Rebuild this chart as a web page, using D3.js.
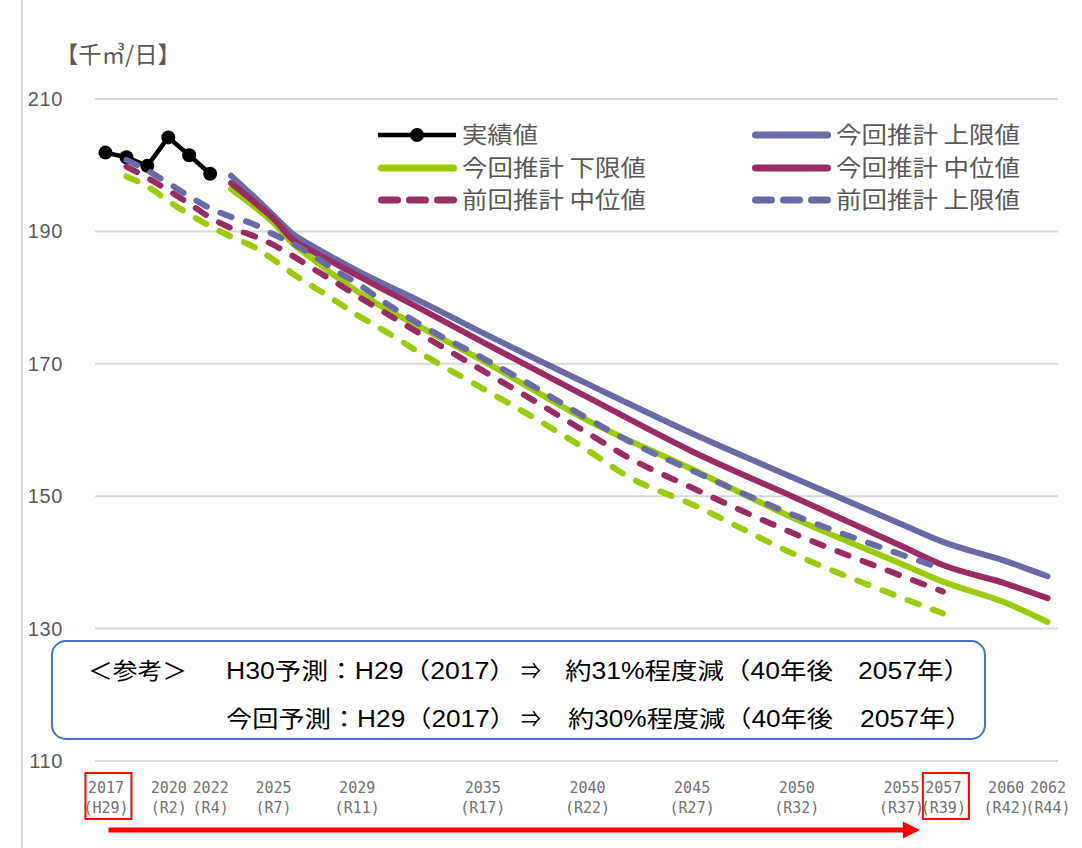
<!DOCTYPE html>
<html>
<head>
<meta charset="utf-8">
<script src="https://cdn.jsdelivr.net/npm/d3@7"></script>
<style>
  html, body { margin: 0; padding: 0; background: #fff; }
  svg { display: block; }
</style>
</head>
<body>
<svg id="chart" width="1082" height="848"></svg>
<script>
// 実績値
const actualYears = [2017, 2018, 2019, 2020, 2021, 2022];
const actualValues = [201.9, 201.2, 199.9, 204.2, 201.5, 198.7];

// 今回推計 (2023〜2062)
const currentYears = [2023, 2024, 2025, 2026, 2027, 2028, 2029, 2030, 2032, 2035, 2040, 2045, 2050, 2055, 2057, 2060, 2062];
const currentUpper = [198.4, 195.5, 192.5, 189.5, 187.6, 185.8, 184.1, 182.5, 179.5, 174.7, 167.0, 159.5, 152.6, 145.8, 143.1, 140.2, 137.9];
const currentMid   = [197.3, 194.7, 192.0, 188.6, 186.8, 185.1, 183.4, 181.7, 178.4, 173.3, 165.0, 156.8, 149.7, 142.5, 139.6, 136.8, 134.6];
const currentLower = [196.4, 194.0, 191.4, 188.0, 185.6, 183.2, 181.0, 179.0, 175.6, 170.5, 161.5, 154.1, 146.5, 139.8, 137.1, 133.9, 131.0];

// 前回推計 (2018〜2057)
const previousYears = [2018, 2019, 2020, 2021, 2022, 2023, 2024, 2025, 2026, 2027, 2028, 2029, 2030, 2032, 2035, 2037, 2040, 2042, 2045, 2050, 2055, 2057];
const previousUpper = [200.8, 199.2, 197.3, 195.3, 193.5, 192.2, 191.2, 189.6, 188.1, 186.2, 184.1, 182.2, 180.0, 176.0, 170.9, 167.4, 161.8, 158.3, 153.9, 147.0, 141.2, 139.0];
const previousMid   = [199.8, 198.1, 196.2, 194.2, 192.1, 190.5, 189.4, 188.0, 186.2, 184.2, 182.3, 180.3, 178.4, 174.6, 169.0, 165.3, 159.6, 155.8, 151.3, 144.2, 138.0, 135.6];
const previousLower = [198.3, 196.8, 194.6, 192.6, 190.8, 189.2, 187.8, 185.8, 183.5, 181.5, 179.5, 177.4, 175.6, 171.7, 166.3, 162.7, 157.0, 152.9, 148.8, 141.1, 134.7, 132.3];

// 軸ラベル
const yTicks = [110, 130, 150, 170, 190, 210];
const xTickYears = [2017, 2020, 2022, 2025, 2029, 2035, 2040, 2045, 2050, 2055, 2057, 2060, 2062];
const xTickEras = ["(H29)", "(R2)", "(R4)", "(R7)", "(R11)", "(R17)", "(R22)", "(R27)", "(R32)", "(R37)", "(R39)", "(R42)", "(R44)"];
const highlightYears = [2017, 2057];
const unitLabel = "【千㎥/日】";

const noteLines = [
  ["＜参考＞", "H30予測：H29（2017）", "⇒", "約31%程度減（40年後", "2057年）"],
  ["", "今回予測：H29（2017）", "⇒", "約30%程度減（40年後", "2057年）"]
];

const COLORS = {
  actual: "#000000",
  upper: "#6a6aa6",
  mid: "#992c63",
  lower: "#9acb04"
};

const svg = d3.select("#chart");
const W = 1082, H = 848;

const x = d3.scaleLinear().domain([2016.5, 2062.5]).range([95, 1058]);
const y = d3.scaleLinear().domain([110, 210]).range([761, 99]);

// 枠線（左）
svg.append("line")
  .attr("x1", 22).attr("x2", 22).attr("y1", 0).attr("y2", H)
  .attr("stroke", "#d9d9d9").attr("stroke-width", 2);

// 単位
svg.append("text")
  .attr("x", 55).attr("y", 63)
  .attr("font-family", "'Noto Sans CJK JP', sans-serif")
  .attr("font-size", 23)
  .attr("fill", "#595959")
  .attr("textLength", 126)
  .attr("lengthAdjust", "spacingAndGlyphs")
  .text(unitLabel);

// 目盛線
svg.append("g")
  .selectAll("line")
  .data(yTicks)
  .join("line")
  .attr("x1", 95).attr("x2", 1058)
  .attr("y1", d => y(d)).attr("y2", d => y(d))
  .attr("stroke", "#d9d9d9").attr("stroke-width", 2);

// 縦軸
const yAxis = svg.append("g")
  .attr("transform", "translate(95,0)")
  .call(d3.axisLeft(y).tickValues(yTicks).tickSize(0).tickPadding(32).tickFormat(d3.format("d")));
yAxis.select(".domain").remove();
yAxis.selectAll("text")
  .attr("font-family", "'Liberation Sans', Arial, sans-serif")
  .attr("font-size", 20)
  .attr("fill", "#595959")
  .attr("letter-spacing", 0.6);

// 横軸（年・元号の2段）
const xAxis = svg.append("g")
  .attr("transform", "translate(0,761)")
  .call(d3.axisBottom(x).tickValues(xTickYears).tickSize(0).tickPadding(0).tickFormat(d => String(d)));
xAxis.select(".domain").remove();
xAxis.selectAll("text")
  .attr("font-family", "'DejaVu Sans Mono', monospace")
  .attr("font-size", 15)
  .attr("fill", "#707070")
  .attr("y", 32)
  .attr("dy", null)
  .each(function(d, i) {
    const t = d3.select(this);
    t.text(null);
    t.append("tspan").attr("x", 0).attr("y", 32).text(String(d));
    t.append("tspan").attr("x", 0).attr("y", 52).text(xTickEras[i]);
  });

// 強調枠（基準年・40年後）
svg.append("g")
  .selectAll("rect")
  .data(highlightYears)
  .join("rect")
  .attr("x", d => x(d) - 20)
  .attr("y", 773)
  .attr("width", 46)
  .attr("height", 46)
  .attr("fill", "none")
  .attr("stroke", "#ff0000")
  .attr("stroke-width", 2);

// 期間を示す矢印
const arrowY = 830;
const arrowStart = x(2017) + 3;
const arrowTip = x(2057) - 23;
svg.append("line")
  .attr("x1", arrowStart).attr("x2", arrowTip - 16)
  .attr("y1", arrowY).attr("y2", arrowY)
  .attr("stroke", "#ff0000").attr("stroke-width", 5);
svg.append("path")
  .attr("d", `M${arrowTip - 17},${arrowY - 8.5} L${arrowTip},${arrowY} L${arrowTip - 17},${arrowY + 8.5} Z`)
  .attr("fill", "#ff0000");

// 系列の描画（系列順に重ねる：実績 → 今回推計 → 前回推計）
const line = d3.line().x(d => x(d[0])).y(d => y(d[1])).curve(d3.curveMonotoneX);
const zip = (ys, vs) => ys.map((yr, i) => [yr, vs[i]]);

const plot = svg.append("g");

const actualData = zip(actualYears, actualValues);
plot.append("path")
  .datum(actualData)
  .attr("d", d3.line().x(d => x(d[0])).y(d => y(d[1])))
  .attr("fill", "none")
  .attr("stroke", COLORS.actual)
  .attr("stroke-width", 4.5)
  .attr("stroke-linejoin", "round");
plot.selectAll("circle.actual")
  .data(actualData)
  .join("circle")
  .attr("class", "actual")
  .attr("cx", d => x(d[0]))
  .attr("cy", d => y(d[1]))
  .attr("r", 7)
  .attr("fill", COLORS.actual);

const series = [
  { years: currentYears, values: currentUpper, color: COLORS.upper, dashed: false },
  { years: currentYears, values: currentLower, color: COLORS.lower, dashed: false },
  { years: currentYears, values: currentMid, color: COLORS.mid, dashed: false },
  { years: previousYears, values: previousMid, color: COLORS.mid, dashed: true },
  { years: previousYears, values: previousUpper, color: COLORS.upper, dashed: true },
  { years: previousYears, values: previousLower, color: COLORS.lower, dashed: true }
];

series.forEach(s => {
  plot.append("path")
    .datum(zip(s.years, s.values))
    .attr("d", line)
    .attr("fill", "none")
    .attr("stroke", s.color)
    .attr("stroke-width", 6)
    .attr("stroke-linecap", "round")
    .attr("stroke-linejoin", "round")
    .attr("stroke-dasharray", s.dashed ? "12,15" : null);
});

// 凡例
const legendItems = [
  { label: "実績値", color: COLORS.actual, type: "marker", col: 0, row: 0, w: 76 },
  { label: "今回推計 下限値", color: COLORS.lower, type: "solid", col: 0, row: 1, w: 184 },
  { label: "前回推計 中位値", color: COLORS.mid, type: "dashed", col: 0, row: 2, w: 184 },
  { label: "今回推計 上限値", color: COLORS.upper, type: "solid", col: 1, row: 0, w: 184 },
  { label: "今回推計 中位値", color: COLORS.mid, type: "solid", col: 1, row: 1, w: 184 },
  { label: "前回推計 上限値", color: COLORS.upper, type: "dashed", col: 1, row: 2, w: 184 }
];
const legendColX = [378, 752];
const legendRowY = [135, 168, 200];
const legend = svg.append("g");
legendItems.forEach(it => {
  const x0 = legendColX[it.col];
  const yy = legendRowY[it.row];
  const g = legend.append("g");
  if (it.type === "dashed") {
    g.append("line")
      .attr("x1", x0 + 3.5).attr("x2", x0 + 76)
      .attr("y1", yy).attr("y2", yy)
      .attr("stroke", it.color).attr("stroke-width", 7)
      .attr("stroke-linecap", "round")
      .attr("stroke-dasharray", "16,12");
  } else if (it.type === "marker") {
    g.append("line")
      .attr("x1", x0).attr("x2", x0 + 78)
      .attr("y1", yy).attr("y2", yy)
      .attr("stroke", it.color).attr("stroke-width", 4.5);
    g.append("circle").attr("cx", x0 + 39).attr("cy", yy).attr("r", 7).attr("fill", it.color);
  } else {
    g.append("line")
      .attr("x1", x0 + 3.5).attr("x2", x0 + 75.5)
      .attr("y1", yy).attr("y2", yy)
      .attr("stroke", it.color).attr("stroke-width", 7)
      .attr("stroke-linecap", "round");
  }
  g.append("text")
    .attr("x", x0 + 84).attr("y", yy + 8)
    .attr("font-family", "'Noto Sans CJK JP', sans-serif")
    .attr("font-size", 23)
    .attr("fill", "#595959")
    .attr("textLength", it.w)
    .attr("lengthAdjust", "spacingAndGlyphs")
    .text(it.label);
});

// 参考注記
const note = svg.append("g");
note.append("rect")
  .attr("x", 52).attr("y", 641)
  .attr("width", 933).attr("height", 98)
  .attr("rx", 14).attr("ry", 14)
  .attr("fill", "#ffffff")
  .attr("stroke", "#4472c4")
  .attr("stroke-width", 2);
const noteX = [[88, 226, 521, 565, 858], [88, 226, 521, 568, 860]];
const noteW = [[99, 290, 20, 268, 112], [0, 290, 20, 265, 112]];
const noteY = [679, 727];
noteLines.forEach((parts, r) => {
  parts.forEach((p, c) => {
    if (!p) return;
    note.append("text")
      .attr("x", noteX[r][c]).attr("y", noteY[r])
      .attr("font-family", "'Liberation Sans', 'Noto Sans CJK JP', sans-serif")
      .attr("font-size", 23)
      .attr("fill", "#000000")
      .attr("textLength", noteW[r][c])
      .attr("lengthAdjust", "spacingAndGlyphs")
      .text(p);
  });
});
</script>
</body>
</html>
